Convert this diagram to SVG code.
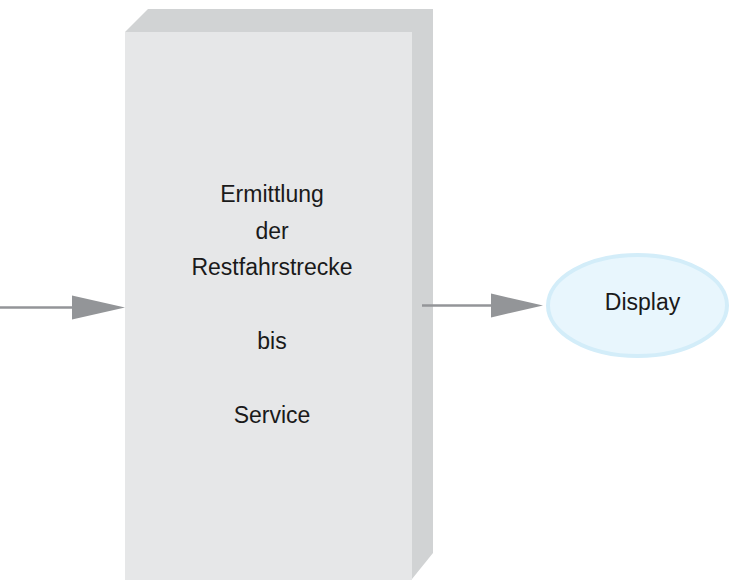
<svg xmlns="http://www.w3.org/2000/svg" width="731" height="580" viewBox="0 0 731 580">
<style>
.lbl{font-family:"Liberation Sans",Arial,sans-serif;font-size:23px;fill:#1a1a1a;text-anchor:middle}
.conn{stroke:#939598;stroke-width:2.5;fill:none}
.head{fill:#939598}
</style>
<rect width="731" height="580" fill="#ffffff"/>
<g id="process">
<polygon points="125,32 148,9 433,9 433,553 412,579 125,579" fill="#d1d3d4"/>
<rect x="125" y="32" width="287" height="548" fill="#e6e7e8"/>
<text class="lbl" x="272" y="202">Ermittlung</text>
<text class="lbl" x="272" y="239">der</text>
<text class="lbl" x="272" y="275">Restfahrstrecke</text>
<text class="lbl" x="272" y="349">bis</text>
<text class="lbl" x="272" y="423">Service</text>
</g>
<g id="display">
<ellipse cx="637.5" cy="305.5" rx="89.5" ry="50.5" fill="#e8f6fd" stroke="#d3edf9" stroke-width="4"/>
<text class="lbl" x="642.5" y="310">Display</text>
</g>
<g id="connectors">
<line class="conn" x1="0" y1="307.5" x2="76" y2="307.5"/>
<polygon class="head" points="72,295.5 125,307.5 72,319.5"/>
<line class="conn" x1="422" y1="305.5" x2="494" y2="305.5"/>
<polygon class="head" points="491,293.5 543,305.5 491,317.5"/>
</g>
</svg>
